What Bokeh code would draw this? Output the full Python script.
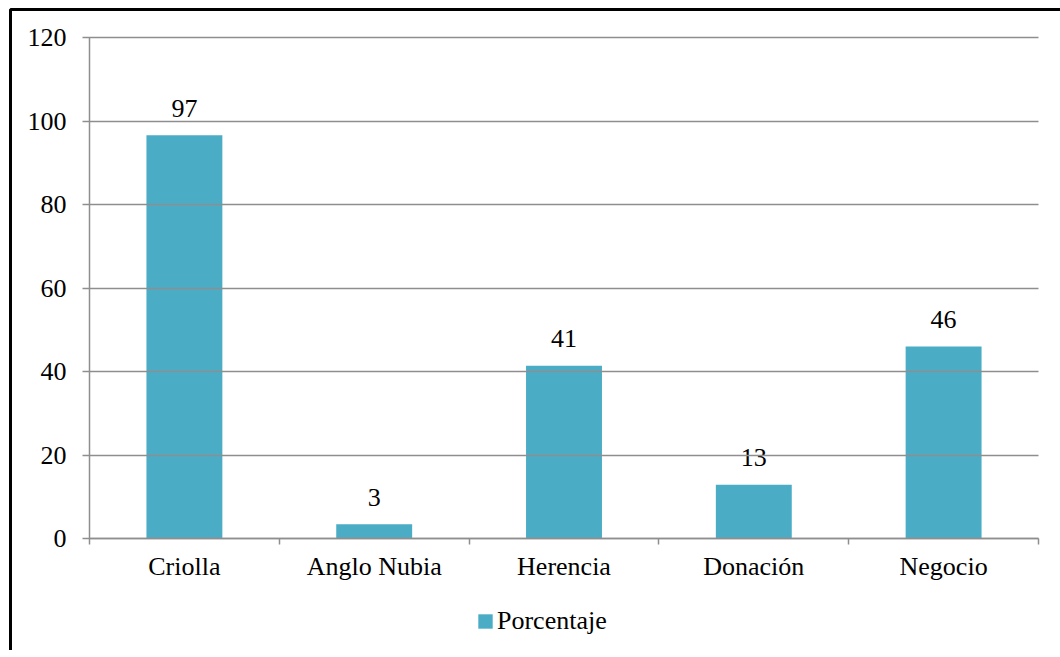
from bokeh.plotting import figure
from bokeh.models import (Range1d, FixedTicker, Legend, LegendItem, LinearAxis,
                          ColumnDataSource, BoxAnnotation, Node)
from bokeh.core.properties import value
from bokeh.embed import file_html
from bokeh.resources import INLINE

categories = ["Criolla", "Anglo Nubia", "Herencia", "Donación", "Negocio"]
porcentaje = [96.6, 3.4, 41.4, 12.9, 46.0]
value_labels = ["97", "3", "41", "13", "46"]
y_ticks = [0, 20, 40, 60, 80, 100, 120]
series_name = "Porcentaje"

FONT = "Liberation Serif, Times New Roman, serif"
BAR = "#4BACC6"
GRID = "#8e8e8e"

# canvas / layout geometry (pixels)
W, H = 1060, 650
LEFT_PX, RIGHT_PX = 89, 1038      # plot area horizontally
TOP_PX, ZERO_PX = 37, 538         # y=120 and y=0 positions
n = len(categories)
ymax = y_ticks[-1]
ppx = (RIGHT_PX - LEFT_PX) / n
ppy = (ZERO_PX - TOP_PX) / ymax

p = figure(width=W, height=H, output_backend="svg", toolbar_location=None,
           x_range=Range1d(-LEFT_PX / ppx, n + (W - RIGHT_PX) / ppx),
           y_range=Range1d(-(H - ZERO_PX) / ppy, ymax + TOP_PX / ppy),
           x_axis_location=None, y_axis_location=None,
           min_border=0, outline_line_color=None)
p.grid.visible = False

xpos = [i + 0.5 for i in range(n)]
src = ColumnDataSource(dict(x=xpos, y=porcentaje, lab=value_labels))
bars = p.vbar(x="x", top="y", width=0.4, source=src, fill_color=BAR, line_color=None)

p.text(x="x", y="y", text="lab", source=src, text_align="center",
       text_baseline="alphabetic", y_offset=-27, text_font=value(FONT),
       text_font_size="26px", text_color="black")

# y axis (its inward ticks act as the horizontal gridlines)
yax = LinearAxis(fixed_location=0, bounds=(0, ymax),
                 ticker=FixedTicker(ticks=y_ticks))
yax.axis_line_color = GRID
yax.axis_line_width = 1.5
yax.major_tick_line_color = GRID
yax.major_tick_line_width = 1.5
yax.major_tick_in = int(RIGHT_PX - LEFT_PX)
yax.major_tick_out = 7
yax.minor_tick_line_color = None
yax.major_label_text_font = FONT
yax.major_label_text_font_size = "26px"
yax.major_label_text_color = "black"
yax.major_label_standoff = 16
p.add_layout(yax, "left")

# x axis: labels at category centres, boundary ticks between categories
xax = LinearAxis(fixed_location=0, bounds=(0, n),
                 ticker=FixedTicker(ticks=xpos, minor_ticks=list(range(n + 1))),
                 major_label_overrides={x: c for x, c in zip(xpos, categories)})
xax.axis_line_color = GRID
xax.axis_line_width = 1.5
xax.major_tick_line_color = None
xax.major_tick_in = 0
xax.major_tick_out = 0
xax.minor_tick_line_color = GRID
xax.minor_tick_line_width = 1.5
xax.minor_tick_in = 0
xax.minor_tick_out = 6
xax.major_label_text_font = FONT
xax.major_label_text_font_size = "26px"
xax.major_label_text_color = "black"
xax.major_label_standoff = 7
p.add_layout(xax, "below")

legend = Legend(items=[LegendItem(label=series_name, renderers=[bars])],
                location=(476, H - 636), orientation="horizontal",
                glyph_width=18, glyph_height=18, label_standoff=3,
                padding=0, margin=0, border_line_color=None,
                background_fill_alpha=0, label_text_font=FONT,
                label_text_font_size="26px", label_text_color="black")
p.add_layout(legend, "center")

border = BoxAnnotation(left=Node(target="frame", symbol="left", offset=10),
                       top=Node(target="frame", symbol="top", offset=9),
                       right=Node(target="frame", symbol="right", offset=20),
                       bottom=Node(target="frame", symbol="bottom", offset=20),
                       fill_alpha=0, line_color="black", line_alpha=1.0,
                       line_width=3)
p.add_layout(border)

p.background_fill_color = "white"
p.border_fill_color = "white"

open("out.html", "w").write(file_html(p, INLINE))
